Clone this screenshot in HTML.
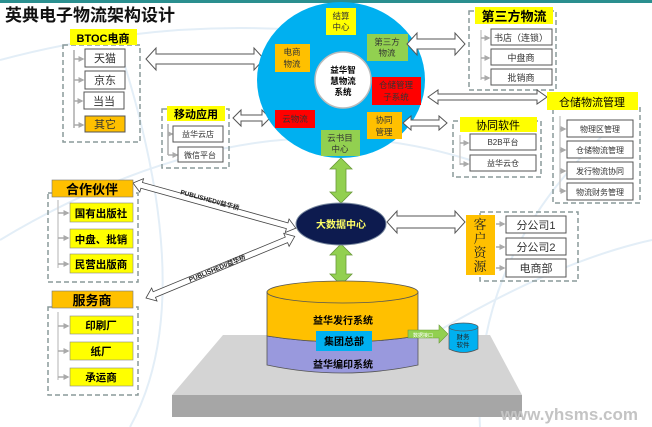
<!DOCTYPE html>
<html><head><meta charset="utf-8"><style>
html,body{margin:0;padding:0;background:#fff;}
svg{display:block;font-family:"Liberation Sans","Noto Sans CJK SC",sans-serif;}
.b{font-weight:bold}
</style></head><body>
<svg width="652" height="427" viewBox="0 0 652 427" xmlns="http://www.w3.org/2000/svg">
<defs>
<marker id="ga" markerWidth="4" markerHeight="4" refX="3" refY="2" orient="auto"><path d="M0,0 L4,2 L0,4z" fill="#aaa"/></marker>
</defs>
<rect x="0" y="0" width="652" height="3" fill="#2a8f8f"/>
<!-- faint arcs -->
<g fill="none" stroke="#e3eef7" stroke-width="2">
<path d="M0,240 Q250,90 470,160"/>
<path d="M120,50 Q200,300 130,427"/>
<path d="M480,427 Q470,250 620,120"/>
<path d="M440,330 Q560,260 652,240"/>
<path d="M0,60 Q150,20 300,30"/>
</g>
<text x="5" y="21" font-size="17" class="b" fill="#111">英典电子物流架构设计</text>

<!-- BTOC -->
<rect x="63" y="45" width="77" height="97" fill="none" stroke="#8a9a9a" stroke-width="1.5" stroke-dasharray="5,3"/>
<rect x="70" y="29" width="67" height="16" fill="#ffff00"/>
<text x="103" y="42" font-size="11" class="b" text-anchor="middle">BTOC电商</text>
<path d="M74,50 V128" stroke="#aaa" stroke-width="1.5" fill="none"/>
<g stroke="#aaa" stroke-width="1.5" marker-end="url(#ga)"><line x1="74" y1="59" x2="83" y2="59"/><line x1="74" y1="80" x2="83" y2="80"/><line x1="74" y1="101" x2="82" y2="101"/><line x1="74" y1="125" x2="83" y2="125"/></g>
<g font-size="11" text-anchor="middle" fill="#333">
<rect x="85" y="49" width="40" height="18" fill="#fff" stroke="#555"/><text x="105" y="62">天猫</text>
<rect x="85" y="71" width="40" height="18" fill="#fff" stroke="#555"/><text x="105" y="84">京东</text>
<rect x="84" y="92" width="40" height="17" fill="#fff" stroke="#555"/><text x="104" y="105">当当</text>
<rect x="85" y="116" width="40" height="16" fill="#ffc000" stroke="#555"/><text x="105" y="128">其它</text>
</g>
<!-- big arrow BTOC-circle -->
<path d="M146,59 L156,48 L156,54 L254,54 L254,48 L264,59 L254,70 L254,64 L156,64 L156,70Z" fill="#fff" stroke="#555"/>

<!-- 移动应用 -->
<rect x="162" y="109" width="67" height="59" fill="none" stroke="#8a9a9a" stroke-width="1.5" stroke-dasharray="5,3"/>
<rect x="167" y="106" width="58" height="15" fill="#ffff00"/>
<text x="196" y="118" font-size="11" class="b" text-anchor="middle">移动应用</text>
<path d="M168,124 V155" stroke="#aaa" stroke-width="1.5"/>
<g stroke="#aaa" stroke-width="1.5" marker-end="url(#ga)"><line x1="168" y1="134" x2="172" y2="134"/><line x1="168" y1="155" x2="177" y2="155"/></g>
<g font-size="8" text-anchor="middle" fill="#333">
<rect x="173" y="126" width="50" height="16" fill="#fff" stroke="#555"/><text x="198" y="137">益华云店</text>
<rect x="178" y="147" width="45" height="15" fill="#fff" stroke="#555"/><text x="200" y="158">微信平台</text>
</g>
<path d="M233,118 L241,110 L241,115 L262,115 L262,110 L270,118 L262,126 L262,121 L241,121 L241,126Z" fill="#fff" stroke="#555"/>

<!-- circle -->
<ellipse cx="341" cy="80" rx="84" ry="78" fill="#00b0f0"/>
<circle cx="343" cy="80" r="28" fill="#fff" stroke="#bbb" stroke-width="1.5"/>
<text x="343" y="73" font-size="8.5" class="b" text-anchor="middle">益华智</text>
<text x="343" y="84" font-size="8.5" class="b" text-anchor="middle">慧物流</text>
<text x="343" y="95" font-size="8.5" class="b" text-anchor="middle">系统</text>
<g font-size="8.5" text-anchor="middle" fill="#333">
<rect x="326" y="8" width="30" height="27" fill="#ffff00"/><text x="341" y="19">结算</text><text x="341" y="30">中心</text>
<rect x="367" y="34" width="41" height="27" fill="#92d050"/><text x="387" y="45">第三方</text><text x="387" y="56">物流</text>
<rect x="275" y="44" width="35" height="28" fill="#ffc000"/><text x="292" y="55">电商</text><text x="292" y="67">物流</text>
<rect x="372" y="77" width="49" height="28" fill="#ff0000"/><text x="396" y="88">仓储管理</text><text x="396" y="100">子系统</text>
<rect x="275" y="110" width="40" height="18" fill="#ff0000"/><text x="295" y="122">云物流</text>
<rect x="367" y="112" width="35" height="27" fill="#ffc000"/><text x="384" y="123">协同</text><text x="384" y="135">管理</text>
<rect x="321" y="130" width="39" height="26" fill="#92d050"/><text x="340" y="141">云书目</text><text x="340" y="152">中心</text>
</g>

<!-- 第三方物流 -->
<path d="M407,44 L417,33 L417,39 L455,39 L455,33 L465,44 L455,55 L455,49 L417,49 L417,55Z" fill="#fff" stroke="#555"/>
<rect x="469" y="11" width="87" height="79" fill="none" stroke="#8a9a9a" stroke-width="1.5" stroke-dasharray="5,3"/>
<rect x="475" y="7" width="78" height="17" fill="#ffff00"/>
<text x="514" y="21" font-size="13" class="b" text-anchor="middle">第三方物流</text>
<path d="M481,30 V80" stroke="#ccc" stroke-width="1.5"/>
<g stroke="#aaa" stroke-width="1.5" marker-end="url(#ga)"><line x1="481" y1="38" x2="489" y2="38"/><line x1="481" y1="58" x2="489" y2="58"/><line x1="481" y1="78" x2="489" y2="78"/></g>
<g font-size="9" text-anchor="middle" fill="#333">
<rect x="491" y="29" width="61" height="16" fill="#fff" stroke="#555"/><text x="521" y="41">书店（连锁）</text>
<rect x="491" y="49" width="61" height="16" fill="#fff" stroke="#555"/><text x="521" y="61">中盘商</text>
<rect x="491" y="69" width="61" height="16" fill="#fff" stroke="#555"/><text x="521" y="81">批销商</text>
</g>

<!-- 仓储物流管理 -->
<path d="M428,97 L438,90 L438,94 L537,94 L537,90 L547,97 L537,104 L537,100 L438,100 L438,104Z" fill="#fff" stroke="#555"/>
<rect x="553" y="106" width="87" height="97" fill="none" stroke="#8a9a9a" stroke-width="1.5" stroke-dasharray="5,3"/>
<rect x="547" y="92" width="91" height="18" fill="#ffff00"/>
<text x="592" y="106" font-size="11" text-anchor="middle">仓储物流管理</text>
<path d="M560,116 V192" stroke="#ccc" stroke-width="1.5"/>
<g stroke="#aaa" stroke-width="1.5" marker-end="url(#ga)"><line x1="560" y1="129" x2="565" y2="129"/><line x1="560" y1="150" x2="565" y2="150"/><line x1="560" y1="171" x2="565" y2="171"/><line x1="560" y1="191" x2="565" y2="191"/></g>
<g font-size="8" text-anchor="middle" fill="#333">
<rect x="567" y="120" width="66" height="17" fill="#fff" stroke="#555"/><text x="600" y="132">物理区管理</text>
<rect x="567" y="141" width="66" height="17" fill="#fff" stroke="#555"/><text x="600" y="153">仓储物流管理</text>
<rect x="567" y="162" width="66" height="17" fill="#fff" stroke="#555"/><text x="600" y="174">发行物流协同</text>
<rect x="567" y="183" width="66" height="17" fill="#fff" stroke="#555"/><text x="600" y="195">物流财务管理</text>
</g>

<!-- 协同软件 -->
<path d="M403,123 L411,116 L411,120 L439,120 L439,116 L447,123 L439,130 L439,126 L411,126 L411,130Z" fill="#fff" stroke="#555"/>
<rect x="453" y="121" width="88" height="56" fill="none" stroke="#8a9a9a" stroke-width="1.5" stroke-dasharray="5,3"/>
<rect x="460" y="117" width="77" height="15" fill="#ffff00"/>
<text x="498" y="129" font-size="11" text-anchor="middle">协同软件</text>
<path d="M460,135 V165" stroke="#ccc" stroke-width="1.5"/>
<g stroke="#aaa" stroke-width="1.5" marker-end="url(#ga)"><line x1="460" y1="143" x2="468" y2="143"/><line x1="460" y1="164" x2="468" y2="164"/></g>
<g font-size="8" text-anchor="middle" fill="#333">
<rect x="470" y="134" width="66" height="16" fill="#fff" stroke="#555"/><text x="503" y="145">B2B平台</text>
<rect x="470" y="155" width="66" height="16" fill="#fff" stroke="#555"/><text x="503" y="166">益华云仓</text>
</g>

<!-- green arrows -->
<path d="M341,158 L352,169 L346,169 L346,192 L352,192 L341,203 L330,192 L336,192 L336,169 L330,169Z" fill="#92d050" stroke="#6a9a3a" stroke-width="0.8"/>
<path d="M341,244 L352,255 L346,255 L346,274 L352,274 L341,285 L330,274 L336,274 L336,255 L330,255Z" fill="#92d050" stroke="#6a9a3a" stroke-width="0.8"/>

<!-- 大数据中心 -->
<ellipse cx="341" cy="224" rx="45" ry="21" fill="#0d1b4f" stroke="#7a8aa0" stroke-width="1"/>
<text x="341" y="228" font-size="10" class="b" fill="#ffff66" text-anchor="middle">大数据中心</text>

<!-- PUBLISH arrows -->
<g fill="#fff" stroke="#444" stroke-width="0.8">
<path transform="translate(133,183) rotate(15.5)" d="M0,0 L9,-7 L9,-3 L160,-3 L160,-7 L169,0 L160,7 L160,3 L9,3 L9,7Z"/>
<path transform="translate(146,298) rotate(-22.5)" d="M0,0 L9,-7 L9,-3 L152,-3 L152,-7 L161,0 L152,7 L152,3 L9,3 L9,7Z"/>
</g>
<text transform="translate(180,194) rotate(15.5)" font-size="6.5" class="b" fill="#222">PUBLISHEDI/益华桥</text>
<text transform="translate(190,282) rotate(-22.5)" font-size="6.5" class="b" fill="#222">PUBLISHEDI/益华桥</text>

<!-- 合作伙伴 -->
<rect x="48" y="193" width="90" height="89" fill="none" stroke="#8a9a9a" stroke-width="1.5" stroke-dasharray="5,3"/>
<rect x="52" y="180" width="81" height="17" fill="#ffc000" stroke="#777" stroke-width="0.6"/>
<text x="92" y="194" font-size="13" class="b" text-anchor="middle">合作伙伴</text>
<path d="M58,200 V268" stroke="#ccc" stroke-width="1.5"/>
<g stroke="#aaa" stroke-width="1.5" marker-end="url(#ga)"><line x1="58" y1="213" x2="68" y2="213"/><line x1="58" y1="238" x2="68" y2="238"/><line x1="58" y1="264" x2="68" y2="264"/></g>
<g font-size="10.5" class="b" text-anchor="middle">
<rect x="70" y="203" width="63" height="19" fill="#ffff00" stroke="#888" stroke-width="0.6"/><text x="101" y="217">国有出版社</text>
<rect x="70" y="229" width="63" height="19" fill="#ffff00" stroke="#888" stroke-width="0.6"/><text x="101" y="243">中盘、批销</text>
<rect x="70" y="254" width="63" height="19" fill="#ffff00" stroke="#888" stroke-width="0.6"/><text x="101" y="268">民营出版商</text>
</g>

<!-- 服务商 -->
<rect x="48" y="307" width="90" height="88" fill="none" stroke="#8a9a9a" stroke-width="1.5" stroke-dasharray="5,3"/>
<rect x="52" y="291" width="81" height="17" fill="#ffc000" stroke="#777" stroke-width="0.6"/>
<text x="92" y="305" font-size="13" class="b" text-anchor="middle">服务商</text>
<path d="M58,312 V380" stroke="#ccc" stroke-width="1.5"/>
<g stroke="#aaa" stroke-width="1.5" marker-end="url(#ga)"><line x1="58" y1="326" x2="68" y2="326"/><line x1="58" y1="351" x2="68" y2="351"/><line x1="58" y1="377" x2="68" y2="377"/></g>
<g font-size="10.5" class="b" text-anchor="middle">
<rect x="70" y="316" width="63" height="18" fill="#ffff00" stroke="#888" stroke-width="0.6"/><text x="101" y="329">印刷厂</text>
<rect x="70" y="342" width="63" height="18" fill="#ffff00" stroke="#888" stroke-width="0.6"/><text x="101" y="355">纸厂</text>
<rect x="70" y="368" width="63" height="18" fill="#ffff00" stroke="#888" stroke-width="0.6"/><text x="101" y="381">承运商</text>
</g>

<!-- 客户资源 -->
<path d="M387,222 L397,211 L397,216 L455,216 L455,211 L465,222 L455,233 L455,228 L397,228 L397,233Z" fill="#fff" stroke="#555"/>
<rect x="480" y="212" width="98" height="69" fill="none" stroke="#8a9a9a" stroke-width="1.5" stroke-dasharray="5,3"/>
<rect x="466" y="215" width="29" height="60" fill="#ffc000"/>
<g font-family="Liberation Serif,'Noto Serif CJK SC',serif" font-size="13" text-anchor="middle" fill="#222">
<text x="480" y="229">客</text><text x="480" y="243">户</text><text x="480" y="257">资</text><text x="480" y="271">源</text></g>
<g stroke="#aaa" stroke-width="1.5" marker-end="url(#ga)"><line x1="496" y1="224" x2="504" y2="224"/><line x1="496" y1="247" x2="504" y2="247"/><line x1="496" y1="268" x2="504" y2="268"/></g>
<g font-size="11" text-anchor="middle" fill="#333">
<rect x="506" y="216" width="60" height="17" fill="#fff" stroke="#555"/><text x="536" y="229">分公司1</text>
<rect x="506" y="238" width="60" height="17" fill="#fff" stroke="#555"/><text x="536" y="251">分公司2</text>
<rect x="506" y="259" width="60" height="18" fill="#fff" stroke="#555"/><text x="536" y="272">电商部</text>
</g>

<!-- platform -->
<polygon points="223,335 490,335 522,395 172,395" fill="#d4d4d4"/>
<rect x="172" y="395" width="350" height="22" fill="#a6a6a6"/>
<!-- cylinder -->
<path d="M267,336 Q342,348 418,336 V365 Q342,381 267,365Z" fill="#9999dd" stroke="#555" stroke-width="0.8"/>
<path d="M267,292 V336 Q342,348 418,336 V292Z" fill="#ffc000" stroke="#555" stroke-width="0.8"/>
<ellipse cx="342.5" cy="292" rx="75.5" ry="11" fill="#ffc000" stroke="#555" stroke-width="0.8"/>
<text x="343" y="324" font-size="10" class="b" text-anchor="middle">益华发行系统</text>
<rect x="316" y="331" width="56" height="20" fill="#00b0f0"/>
<text x="344" y="345" font-size="10" class="b" text-anchor="middle">集团总部</text>
<text x="343" y="368" font-size="10" class="b" text-anchor="middle">益华编印系统</text>
<!-- finance -->
<path d="M408,330 L439,330 L439,325 L448,334 L439,343 L439,338 L408,338Z" fill="#92d050" stroke="#6a9a3a" stroke-width="0.6"/>
<text x="423" y="337" font-size="5" fill="#fff" text-anchor="middle">数据接口</text>
<path d="M449,327 V349 Q463.5,356 478,349 V327Z" fill="#00b0f0" stroke="#555" stroke-width="0.7"/>
<ellipse cx="463.5" cy="327" rx="14.5" ry="4" fill="#00b0f0" stroke="#555" stroke-width="0.7"/>
<text x="463" y="339" font-size="6.5" text-anchor="middle" fill="#222">财务</text>
<text x="463" y="347" font-size="6.5" text-anchor="middle" fill="#222">软件</text>

<text x="638" y="420" font-size="17" class="b" fill="#c4c4c4" text-anchor="end">www.yhsms.com</text>
</svg>
</body></html>
